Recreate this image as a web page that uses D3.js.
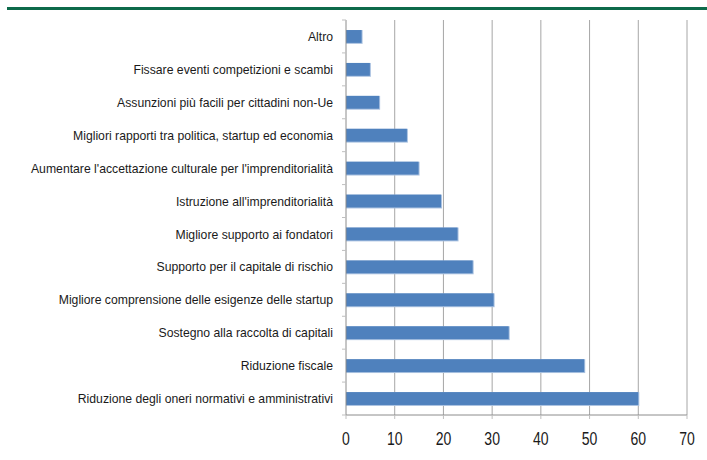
<!DOCTYPE html>
<html>
<head>
<meta charset="utf-8">
<script src="https://cdn.jsdelivr.net/npm/d3@7"></script>
<style>
  body { margin: 0; background: #fff; }
  svg { display: block; font-family: "Liberation Sans", Arial, sans-serif; }
</style>
</head>
<body>
<svg id="chart"></svg>
<script>
// categories top to bottom, as in the picture
const categories = [
  "Altro",
  "Fissare eventi competizioni e scambi",
  "Assunzioni più facili per cittadini non-Ue",
  "Migliori rapporti tra politica, startup ed economia",
  "Aumentare l'accettazione culturale per l'imprenditorialità",
  "Istruzione all'imprenditorialità",
  "Migliore supporto ai fondatori",
  "Supporto per il capitale di rischio",
  "Migliore comprensione delle esigenze delle startup",
  "Sostegno alla raccolta di capitali",
  "Riduzione fiscale",
  "Riduzione degli oneri normativi e amministrativi"
];
const values = [3.2, 4.9, 6.8, 12.5, 14.9, 19.5, 22.9, 26.0, 30.3, 33.4, 48.9, 60.0];
const xTicks = [0, 10, 20, 30, 40, 50, 60, 70];

const width = 707, height = 460;
const margin = { top: 20, right: 20, bottom: 45, left: 346 };

const svg = d3.select("#chart").attr("width", width).attr("height", height);

// green rule across the top
svg.append("rect")
  .attr("x", 7).attr("y", 7)
  .attr("width", width - 7).attr("height", 3)
  .attr("fill", "#0d6a4a");

const x = d3.scaleLinear().domain([0, 70]).range([margin.left, 687]);
const y = d3.scaleBand().domain(categories).range([margin.top, height - margin.bottom]).paddingInner(0.61).paddingOuter(0.305);

// vertical grid
svg.append("g")
  .selectAll("line")
  .data(xTicks.slice(1))
  .join("line")
  .attr("x1", d => x(d)).attr("x2", d => x(d))
  .attr("y1", margin.top).attr("y2", height - margin.bottom)
  .attr("stroke", "#a6a6a6").attr("stroke-width", 1);

// bars, with a light edge like the original
const bars = svg.append("g");
bars.selectAll("rect.edge")
  .data(values)
  .join("rect")
  .attr("class", "edge")
  .attr("x", x(0))
  .attr("y", (d, i) => y(categories[i]))
  .attr("width", d => x(d) - x(0) + 1)
  .attr("height", y.bandwidth() + 1)
  .attr("fill", "#a9c1e0");
bars.selectAll("rect.bar")
  .data(values)
  .join("rect")
  .attr("class", "bar")
  .attr("x", x(0))
  .attr("y", (d, i) => y(categories[i]))
  .attr("width", d => x(d) - x(0))
  .attr("height", y.bandwidth())
  .attr("fill", "#4f81bd");

// y axis line and ticks at band borders
const yAxis = svg.append("g");
yAxis.append("line")
  .attr("x1", x(0)).attr("x2", x(0))
  .attr("y1", margin.top).attr("y2", height - margin.bottom)
  .attr("stroke", "#8c8c8c");
const step = y.step();
yAxis.selectAll("line.tick")
  .data(d3.range(categories.length + 1))
  .join("line")
  .attr("class", "tick")
  .attr("x1", x(0) - 4).attr("x2", x(0))
  .attr("y1", i => margin.top + i * step).attr("y2", i => margin.top + i * step)
  .attr("stroke", "#bfbfbf");

// category labels (a bit condensed)
yAxis.selectAll("text")
  .data(categories)
  .join("text")
  .attr("transform", d => `translate(${x(0) - 13},${y(d) + y.bandwidth() / 2}) scale(0.94,1)`)
  .attr("text-anchor", "end")
  .attr("dy", "0.35em")
  .attr("font-size", 13)
  .attr("fill", "#1a1a1a")
  .text(d => d);

// x axis
const xAxis = svg.append("g");
xAxis.append("line")
  .attr("x1", x(0)).attr("x2", x(70))
  .attr("y1", height - margin.bottom).attr("y2", height - margin.bottom)
  .attr("stroke", "#8c8c8c");
xAxis.selectAll("line.tick")
  .data(xTicks)
  .join("line")
  .attr("class", "tick")
  .attr("x1", d => x(d)).attr("x2", d => x(d))
  .attr("y1", height - margin.bottom).attr("y2", height - margin.bottom + 4)
  .attr("stroke", "#bfbfbf");
xAxis.selectAll("text")
  .data(xTicks)
  .join("text")
  .attr("transform", d => `translate(${x(d)},${height - margin.bottom + 30}) scale(0.78,1)`)
  .attr("text-anchor", "middle")
  .attr("font-size", 18)
  .attr("fill", "#1a1a1a")
  .text(d => d);
</script>
</body>
</html>
